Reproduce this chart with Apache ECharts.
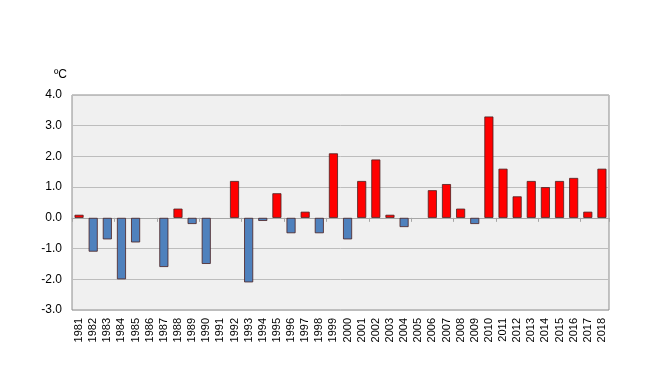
<!DOCTYPE html>
<html><head><meta charset="utf-8">
<script src="https://cdn.jsdelivr.net/npm/echarts@6/dist/echarts.min.js"></script>
<style>html,body{margin:0;padding:0;background:#fff}#c{width:649px;height:365px}</style>
</head><body><div id="c"></div>
<script>
const years = ['1981','1982','1983','1984','1985','1986','1987','1988','1989','1990','1991','1992','1993','1994','1995','1996','1997','1998','1999','2000','2001','2002','2003','2004','2005','2006','2007','2008','2009','2010','2011','2012','2013','2014','2015','2016','2017','2018'];
const anomalies = [0.1,-1.1,-0.7,-2.0,-0.8,0,-1.6,0.3,-0.2,-1.5,0,1.2,-2.1,-0.1,0.8,-0.5,0.2,-0.5,2.1,-0.7,1.2,1.9,0.1,-0.3,0,0.9,1.1,0.3,-0.2,3.3,1.6,0.7,1.2,1.0,1.2,1.3,0.2,1.6];
const unitLabel = 'ºC';

const barData = anomalies.map(v => v === 0 ? {value: 0, itemStyle: {borderWidth: 0, opacity: 0}} : v);

const chart = echarts.init(document.getElementById('c'));
chart.setOption({
  animation: false,
  grid: {left: 72, right: 40, top: 95, bottom: 55, show: true, backgroundColor: '#f0f0f0', borderColor: '#8c8c8c', borderWidth: 1},
  xAxis: [
    {type: 'category', data: years, position: 'bottom', axisLine: {show: false, onZero: false}, axisTick: {show: false},
     axisLabel: {rotate: 90, fontSize: 11, color: '#000', fontFamily: 'Liberation Sans', margin: 8, interval: 0}},
    {type: 'category', data: years, position: 'top', axisLine: {show: true, onZero: true, lineStyle: {color: '#a6a6a6', width: 1}},
     axisTick: {show: true, inside: true, length: 4, lineStyle: {color: '#a6a6a6'}}, axisLabel: {show: false}}
  ],
  yAxis: {type: 'value', min: -3, max: 4, interval: 1,
    name: unitLabel, nameLocation: 'end', nameGap: 14, nameTextStyle: {fontSize: 12, color: '#000', fontFamily: 'Liberation Sans', align: 'right', padding: [0, 5, 0, 0]},
    axisLine: {show: false}, axisTick: {show: false},
    axisLabel: {formatter: v => v.toFixed(1), fontSize: 12, color: '#000', fontFamily: 'Liberation Sans', margin: 10},
    splitLine: {lineStyle: {color: '#bdbdbd', width: 1}}},
  series: [{type: 'bar', xAxisIndex: 0, data: barData, barWidth: '64%',
    itemStyle: {color: p => p.value >= 0 ? '#ff0000' : '#4f81bd',
      borderColor: '#4a2020', borderWidth: 0.8}}]
});
</script></body></html>
